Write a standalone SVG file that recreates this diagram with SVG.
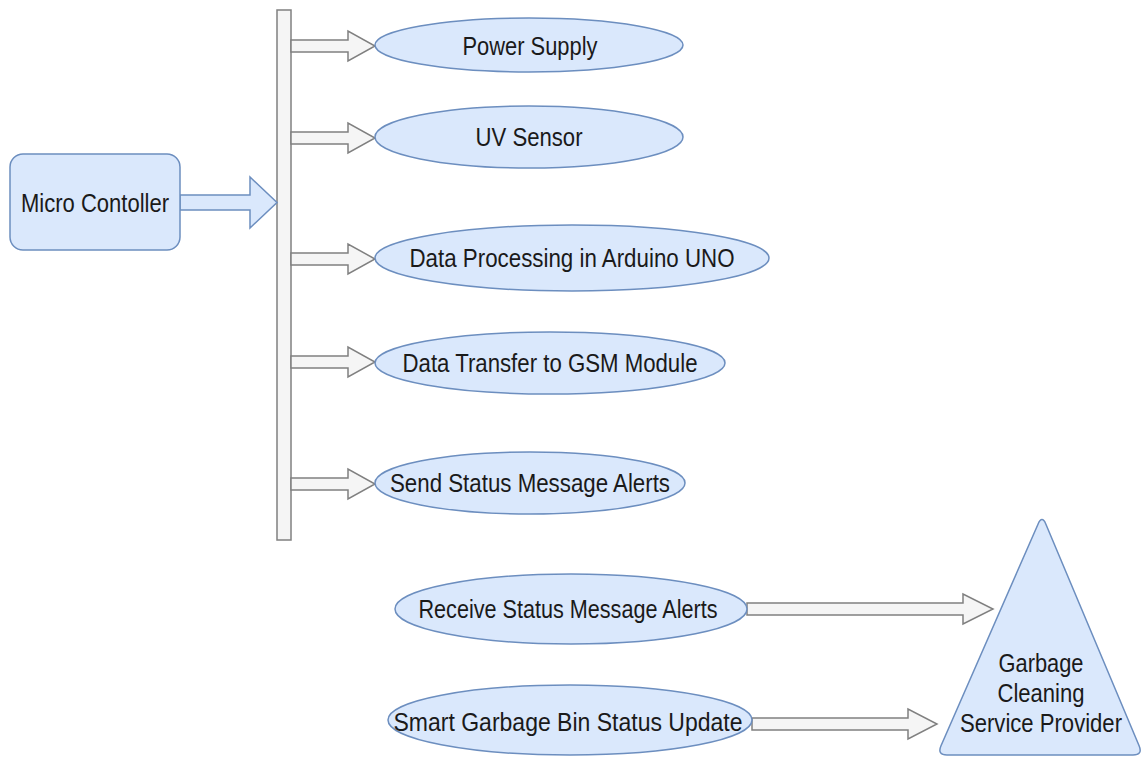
<svg xmlns="http://www.w3.org/2000/svg" width="1144" height="760" viewBox="0 0 1144 760">
  <style>
    .node { fill: #dae8fc; stroke: #6c8ebf; stroke-width: 1.5; }
    .bus { fill: #f5f5f5; stroke: #808080; stroke-width: 1.5; }
    .flow { fill: #f5f5f5; stroke: #808080; stroke-width: 1.5; stroke-linejoin: miter; }
    .flow-blue { fill: #dae8fc; stroke: #6c8ebf; stroke-width: 1.5; }
    .label { font-family: "Liberation Sans", Arial, sans-serif; font-size: 25px; fill: #1a1a1a; text-anchor: middle; }
  </style>
  <rect width="1144" height="760" fill="#ffffff"/>

  <!-- distribution bus -->
  <g id="bus">
    <rect class="bus" x="277" y="10" width="14" height="530"/>
  </g>

  <!-- block arrows -->
  <g id="connectors">
    <polygon class="flow-blue" points="180,195 250,195 250,177 277,202.5 250,228 250,210 180,210"/>
    <polygon class="flow" points="291,40 348,40 348,31 375,46 348,61 348,52 291,52"/>
    <polygon class="flow" points="291,132 348,132 348,123 375,138 348,153 348,144 291,144"/>
    <polygon class="flow" points="291,253 348,253 348,244 375,259 348,274 348,265 291,265"/>
    <polygon class="flow" points="291,356 348,356 348,347 375,362 348,377 348,368 291,368"/>
    <polygon class="flow" points="291,478 348,478 348,469 375,484 348,499 348,490 291,490"/>
    <polygon class="flow" points="747,603 963,603 963,594 993,609 963,624 963,615 747,615"/>
    <polygon class="flow" points="752,718 908,718 908,709 937,724 908,739 908,730 752,730"/>
  </g>

  <g id="micro-controller">
    <rect class="node" x="10" y="154" width="170" height="96" rx="13" ry="13"/>
    <text class="label" x="95" y="212" textLength="148" lengthAdjust="spacingAndGlyphs">Micro Contoller</text>
  </g>

  <g id="power-supply">
    <ellipse class="node" cx="529" cy="45" rx="154" ry="27"/>
    <text class="label" x="530" y="55" textLength="135" lengthAdjust="spacingAndGlyphs">Power Supply</text>
  </g>

  <g id="uv-sensor">
    <ellipse class="node" cx="529" cy="137" rx="154" ry="31"/>
    <text class="label" x="529" y="146" textLength="107" lengthAdjust="spacingAndGlyphs">UV Sensor</text>
  </g>

  <g id="data-processing">
    <ellipse class="node" cx="572" cy="258" rx="197" ry="33"/>
    <text class="label" x="572" y="267" textLength="325" lengthAdjust="spacingAndGlyphs">Data Processing in Arduino UNO</text>
  </g>

  <g id="data-transfer">
    <ellipse class="node" cx="550" cy="363" rx="175" ry="31"/>
    <text class="label" x="550" y="372" textLength="295" lengthAdjust="spacingAndGlyphs">Data Transfer to GSM Module</text>
  </g>

  <g id="send-alerts">
    <ellipse class="node" cx="530" cy="483" rx="155" ry="31"/>
    <text class="label" x="530" y="492" textLength="280" lengthAdjust="spacingAndGlyphs">Send Status Message Alerts</text>
  </g>

  <g id="receive-alerts">
    <ellipse class="node" cx="571" cy="609" rx="176" ry="35"/>
    <text class="label" x="568" y="618" textLength="299" lengthAdjust="spacingAndGlyphs">Receive Status Message Alerts</text>
  </g>

  <g id="bin-status">
    <ellipse class="node" cx="570" cy="720" rx="182" ry="35"/>
    <text class="label" x="568" y="731" textLength="349" lengthAdjust="spacingAndGlyphs">Smart Garbage Bin Status Update</text>
  </g>

  <g id="service-provider">
    <path class="node" d="M1038,524.2 Q1042,515 1045.9,524.2 L1139.1,745.8 Q1143,755 1133,755 L947,755 Q937,755 941,745.8 Z"/>
    <text class="label" x="1041" y="672" textLength="85" lengthAdjust="spacingAndGlyphs">Garbage</text>
    <text class="label" x="1041" y="702" textLength="87" lengthAdjust="spacingAndGlyphs">Cleaning</text>
    <text class="label" x="1041" y="732" textLength="162" lengthAdjust="spacingAndGlyphs">Service Provider</text>
  </g>
</svg>
